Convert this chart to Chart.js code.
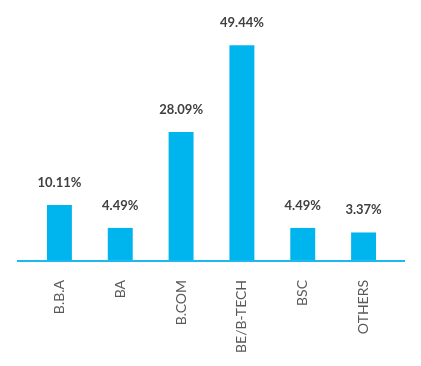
<!DOCTYPE html>
<html>
<head>
<meta charset="utf-8">
<script src="https://cdn.jsdelivr.net/npm/chart.js@4"></script>
<style>
  html, body { margin: 0; padding: 0; background: #fff; }
  #wrap { width: 421px; height: 366px; }
</style>
</head>
<body>
<div id="wrap"><canvas id="chart" width="421" height="366"></canvas></div>
<script>
// Cursos de los encuestados (porcentaje)
const courses = ['B.B.A', 'BA', 'B.COM', 'BE/B-TECH', 'BSC', 'OTHERS'];
const shares = [10.11, 4.49, 28.09, 49.44, 4.49, 3.37];

const barColor = '#00B4EE';
const axisMin = -3.4;

// Etiquetas de porcentaje encima de cada barra y linea del eje
const extras = {
    id: 'extras',
    afterDatasetsDraw(chart) {
        const ctx = chart.ctx;
        const area = chart.chartArea;
        ctx.save();
        ctx.strokeStyle = '#1DB8EF';
        ctx.lineWidth = 2;
        ctx.beginPath();
        ctx.moveTo(area.left - 12, area.bottom + 1);
        ctx.lineTo(area.right + 11, area.bottom + 1);
        ctx.stroke();

        ctx.fillStyle = '#404040';
        ctx.font = 'bold 13px Lato';
        ctx.textAlign = 'center';
        ctx.textBaseline = 'alphabetic';
        chart.getDatasetMeta(0).data.forEach((bar, i) => {
            ctx.fillText(shares[i].toFixed(2) + '%', bar.x, bar.y - 18);
        });
        ctx.restore();
    }
};

new Chart(document.getElementById('chart'), {
    type: 'bar',
    data: {
        labels: courses,
        datasets: [{
            data: shares,
            base: axisMin,
            backgroundColor: barColor,
            barPercentage: 0.82,
            categoryPercentage: 0.5
        }]
    },
    options: {
        responsive: false,
        animation: false,
        layout: { padding: { left: 29, right: 27, top: 0, bottom: 1 } },
        plugins: { legend: { display: false }, tooltip: { enabled: false } },
        scales: {
            x: {
                grid: { display: false },
                border: { display: false },
                ticks: {
                    minRotation: 90,
                    maxRotation: 90,
                    padding: 12,
                    color: '#595959',
                    font: { family: 'Lato', size: 14 }
                }
            },
            y: {
                display: false,
                min: axisMin,
                max: 60.6
            }
        }
    },
    plugins: [extras]
});
</script>
</body>
</html>
